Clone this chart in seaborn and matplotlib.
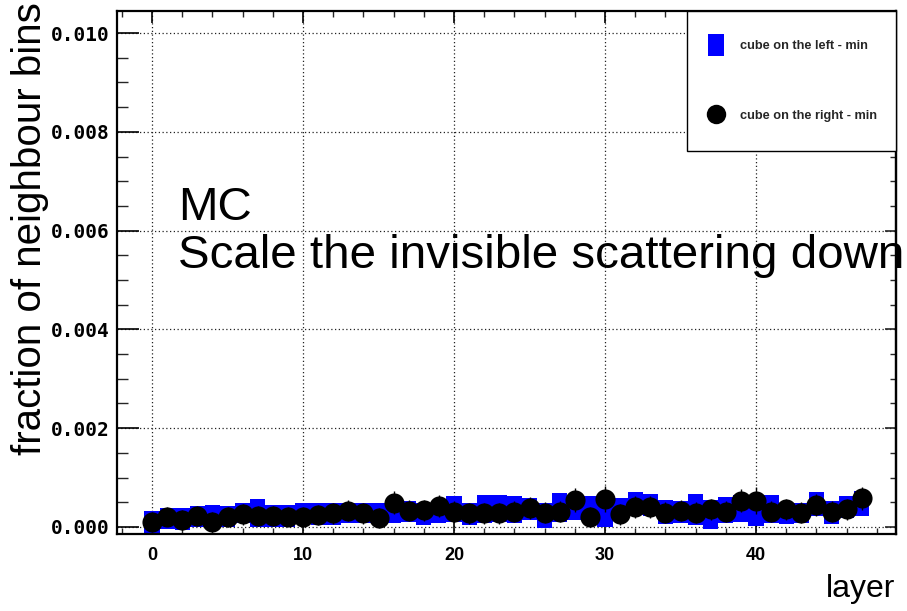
import matplotlib
matplotlib.use("Agg")
import numpy as np
import pandas as pd
import seaborn as sns
import matplotlib.pyplot as plt
from matplotlib.lines import Line2D
from matplotlib.ticker import MultipleLocator, FormatStrFormatter
from matplotlib.font_manager import FontProperties

# ---------------- data ----------------
layers = list(range(48))

left_val = [0.000105, 0.000172, 0.000166, 0.000216, 0.000226, 0.000216, 0.000283, 0.000284,
            0.000226, 0.000226, 0.000283, 0.000260, 0.000267, 0.000283, 0.000277, 0.000270,
            0.000318, 0.000317, 0.000267, 0.000304, 0.000369, 0.000260, 0.000360, 0.000380,
            0.000350, 0.000360, 0.000230, 0.000400, 0.000400, 0.000350, 0.000320, 0.000360,
            0.000480, 0.000450, 0.000300, 0.000310, 0.000360, 0.000250, 0.000350, 0.000380,
            0.000300, 0.000370, 0.000270, 0.000280, 0.000470, 0.000290, 0.000400, 0.000480]
left_err = [0.000225, 0.000220, 0.000226, 0.000210, 0.000220, 0.000210, 0.000210, 0.000278,
            0.000220, 0.000220, 0.000210, 0.000220, 0.000226, 0.000210, 0.000203, 0.000210,
            0.000244, 0.000210, 0.000226, 0.000230, 0.000260, 0.000220, 0.000288, 0.000270,
            0.000278, 0.000220, 0.000260, 0.000294, 0.000254, 0.000278, 0.000311, 0.000220,
            0.000237, 0.000223, 0.000244, 0.000223, 0.000314, 0.000298, 0.000264, 0.000270,
            0.000280, 0.000280, 0.000210, 0.000203, 0.000247, 0.000227, 0.000220, 0.000257]

right_val = [0.000107, 0.000210, 0.000140, 0.000220, 0.000110, 0.000200, 0.000260, 0.000220,
             0.000220, 0.000210, 0.000200, 0.000240, 0.000280, 0.000330, 0.000280, 0.000180,
             0.000490, 0.000330, 0.000340, 0.000430, 0.000310, 0.000280, 0.000280, 0.000280,
             0.000310, 0.000380, 0.000290, 0.000310, 0.000550, 0.000200, 0.000560, 0.000260,
             0.000410, 0.000410, 0.000290, 0.000330, 0.000290, 0.000360, 0.000310, 0.000530,
             0.000530, 0.000310, 0.000360, 0.000290, 0.000450, 0.000310, 0.000360, 0.000580]
right_err = [0.00020, 0.00020, 0.00020, 0.00020, 0.00020, 0.00020, 0.00021, 0.00020,
             0.00020, 0.00020, 0.00020, 0.00020, 0.00021, 0.00021, 0.00021, 0.00020,
             0.00023, 0.00021, 0.00021, 0.00022, 0.00021, 0.00021, 0.00021, 0.00021,
             0.00021, 0.00022, 0.00021, 0.00021, 0.00024, 0.00020, 0.00026, 0.00021,
             0.00022, 0.00022, 0.00021, 0.00021, 0.00021, 0.00021, 0.00021, 0.00023,
             0.00027, 0.00021, 0.00021, 0.00021, 0.00022, 0.00021, 0.00021, 0.00023]

label_left = "cube on the left - min"
label_right = "cube on the right - min"

df = pd.DataFrame({"layer": layers, "left": left_val, "left_err": left_err,
                   "right": right_val, "right_err": right_err})

# ---------------- style ----------------
sns.set_theme(style="white")
plt.rcParams["font.family"] = ["Liberation Sans", "DejaVu Sans"]

W, H = 907, 611
fig = plt.figure(figsize=(W / 100, H / 100), dpi=100)
fig.patch.set_facecolor("white")
ax = fig.add_axes([117 / W, 1 - 534 / H, 779 / W, 523 / H])
ax.set_facecolor("white")

# blue boxes (value +- error, bin width 1)
lv = df["left"].to_numpy()
le = df["left_err"].to_numpy()
ax.bar(df["layer"], height=2 * le, bottom=lv - le, width=1.0, color="#0000ff",
       linewidth=0, zorder=2)

# black points with error bars
ax.errorbar(df["layer"], df["right"], yerr=df["right_err"], fmt="none",
            ecolor="black", elinewidth=1.0, capsize=0, zorder=3)
sns.scatterplot(data=df, x="layer", y="right", ax=ax, color="black", s=210,
                marker="o", linewidth=0, zorder=4, legend=False)

ax.set_xlim(-2.32, 49.27)
ax.set_ylim(-0.000142, 0.010446)
ax.set_xlabel("")
ax.set_ylabel("")

# ticks
ax.xaxis.set_major_locator(MultipleLocator(10))
ax.xaxis.set_minor_locator(MultipleLocator(2))
ax.yaxis.set_major_locator(MultipleLocator(0.002))
ax.yaxis.set_minor_locator(MultipleLocator(0.0005))
ax.yaxis.set_major_formatter(FormatStrFormatter("%.3f"))

ax.tick_params(axis="x", which="major", direction="in", length=8.6, width=1.2,
               top=True, bottom=True, pad=9, colors="black")
ax.tick_params(axis="x", which="minor", direction="in", length=4.3, width=1.0,
               top=True, bottom=True)
ax.tick_params(axis="y", which="major", direction="in", length=15.8, width=1.2,
               left=True, right=False, pad=5, colors="black")
ax.tick_params(axis="y", which="minor", direction="in", length=7.9, width=1.0,
               left=True, right=False)

sec = ax.secondary_yaxis("right")
sec.yaxis.set_major_locator(MultipleLocator(0.002))
sec.yaxis.set_minor_locator(MultipleLocator(0.0005))
sec.tick_params(axis="y", which="major", direction="in", length=8, width=1.2, labelright=False)
sec.tick_params(axis="y", which="minor", direction="in", length=4, width=1.0)
sec.spines["right"].set_linewidth(1.6)
sec.spines["right"].set_color("black")

for lab in ax.get_yticklabels():
    lab.set_fontfamily(["DejaVu Sans Mono"])
    lab.set_fontweight("bold")
    lab.set_fontsize(14)
for lab in ax.get_xticklabels():
    lab.set_fontfamily(["Liberation Sans"])
    lab.set_fontweight("bold")
    lab.set_fontsize(13)

for sp in ax.spines.values():
    sp.set_visible(True)
    sp.set_color("black")
    sp.set_linewidth(1.6)

ax.grid(True, which="major", linestyle=(0, (1, 2)), color="#222222", linewidth=0.9)
ax.set_axisbelow(True)

# texts
ax.text(61 / 779, (534 - 220) / 523, "MC", transform=ax.transAxes, fontsize=34.2,
        ha="left", va="baseline", color="black")
ax.text(61 / 779, (534 - 268) / 523, "Scale the invisible scattering down",
        transform=ax.transAxes, fontsize=34.2, ha="left", va="baseline", color="black")

fig.text(30 / W, 1 - 2 / H, "fraction of neighbour bins", rotation=90,
         ha="center", va="top", fontsize=29, color="black")
fig.text(895 / W, 1 - 597 / H, "layer", ha="right", va="baseline", fontsize=23,
         color="black")

# legend
rect_marker = [(-17 / 22, -1), (17 / 22, -1), (17 / 22, 1), (-17 / 22, 1), (-17 / 22, -1)]
handles = [
    Line2D([], [], color="#0000ff", marker=rect_marker, markersize=15.8,
           linestyle="none", markeredgewidth=0),
    Line2D([], [], color="black", marker="o", markersize=14, linestyle="none",
           markeredgewidth=0),
]
leg = ax.legend(handles, [label_left, label_right], loc="upper left",
                bbox_to_anchor=(570 / 779, 0, 209 / 779, 1), mode="expand",
                borderaxespad=0, borderpad=2.3, handlelength=0.0, handleheight=0.7,
                labelspacing=4.47, handletextpad=1.85, frameon=True, fancybox=False,
                framealpha=1, edgecolor="black",
                prop=FontProperties(family=["Liberation Sans"], weight="bold", size=9.2))
leg.get_frame().set_linewidth(1.0)
leg.set_zorder(10)

fig.savefig("out.png", dpi=100, facecolor="white")
